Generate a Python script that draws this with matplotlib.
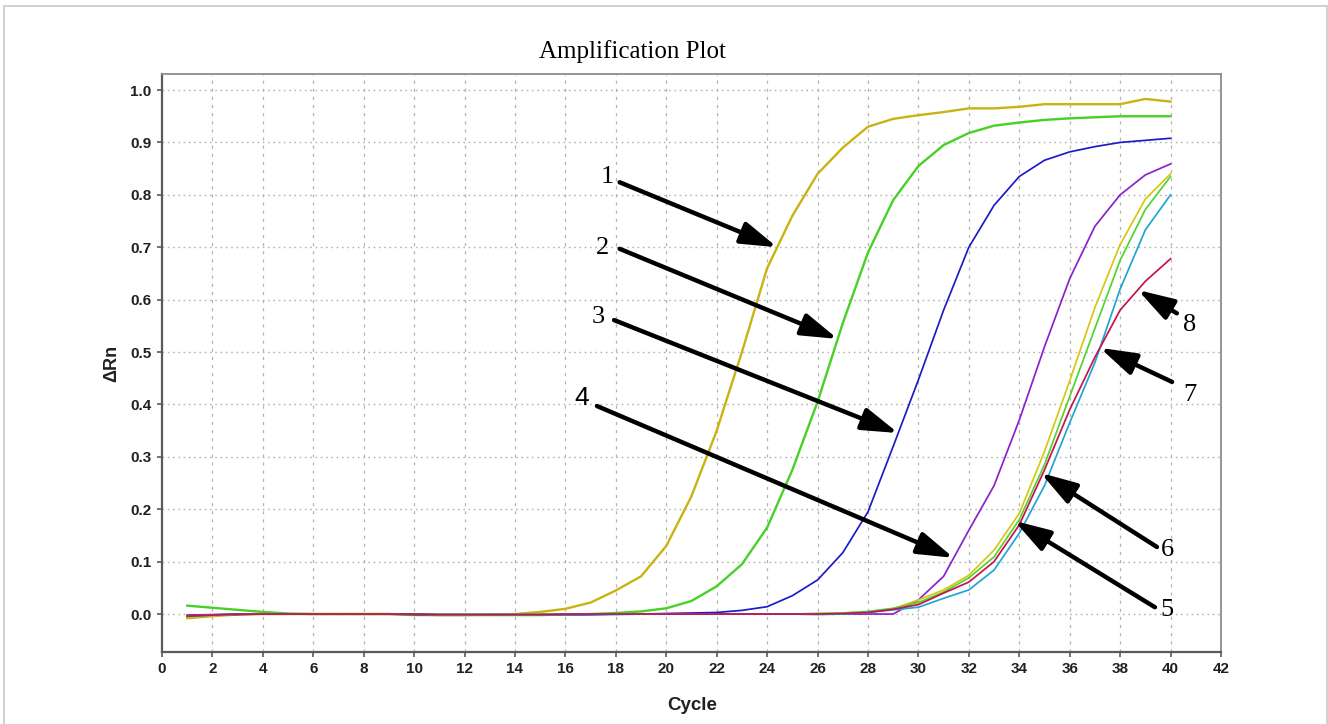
import numpy as np
import matplotlib
matplotlib.use("Agg")
import matplotlib.pyplot as plt
from matplotlib.patches import Rectangle

# amplification data, cycles 1..40
cycles = np.arange(1, 41)

rn_1 = [-0.008, -0.004, -0.001, 0.0, 0.0, 0.0, 0.0, 0.0, 0.0, -0.002,
        -0.002, -0.002, -0.001, 0.0, 0.004, 0.010, 0.022, 0.045, 0.072, 0.130,
        0.225, 0.350, 0.500, 0.660, 0.760, 0.840, 0.890, 0.930, 0.945, 0.952,
        0.958, 0.965, 0.965, 0.968, 0.973, 0.973, 0.973, 0.973, 0.983, 0.978]
rn_2 = [0.016, 0.012, 0.008, 0.004, 0.001, 0.0, 0.0, 0.0, 0.0, -0.001,
        -0.002, -0.002, -0.002, -0.002, -0.002, -0.001, 0.0, 0.002, 0.005, 0.011,
        0.025, 0.053, 0.095, 0.165, 0.275, 0.405, 0.555, 0.690, 0.790, 0.855,
        0.895, 0.918, 0.932, 0.938, 0.943, 0.946, 0.948, 0.950, 0.950, 0.950]
rn_3 = [-0.003, -0.002, -0.001, 0.0, 0.0, 0.0, 0.0, 0.0, 0.0, -0.001,
        -0.002, -0.002, -0.002, -0.002, -0.002, -0.002, -0.001, 0.0, 0.0, 0.001,
        0.002, 0.003, 0.007, 0.014, 0.035, 0.065, 0.117, 0.195, 0.320, 0.447,
        0.580, 0.700, 0.780, 0.835, 0.866, 0.882, 0.892, 0.900, 0.904, 0.908]
rn_4 = [-0.002, -0.001, 0.0, 0.0, 0.0, 0.0, 0.0, 0.0, 0.0, 0.0,
        -0.001, -0.001, -0.001, -0.001, -0.001, -0.001, -0.001, 0.0, 0.0, 0.0,
        0.0, 0.0, 0.0, 0.0, 0.0, 0.0, 0.0, 0.0, 0.0, 0.027,
        0.072, 0.160, 0.245, 0.370, 0.510, 0.640, 0.740, 0.800, 0.838, 0.859]
rn_5 = [-0.007, -0.003, 0.0, 0.0, 0.0, 0.0, 0.0, 0.0, 0.0, 0.0,
        -0.001, -0.001, -0.001, -0.001, -0.001, 0.0, 0.0, 0.0, 0.0, 0.0,
        0.0, 0.0, 0.0, 0.0, 0.0, 0.001, 0.002, 0.004, 0.010, 0.027,
        0.046, 0.074, 0.122, 0.192, 0.310, 0.445, 0.585, 0.705, 0.792, 0.840]
rn_6 = [-0.005, -0.002, 0.0, 0.0, 0.0, 0.0, 0.0, 0.0, 0.0, 0.0,
        -0.001, -0.001, -0.001, -0.001, -0.001, -0.001, 0.0, 0.0, 0.0, 0.0,
        0.0, 0.0, 0.0, 0.0, 0.0, 0.001, 0.002, 0.005, 0.011, 0.022,
        0.042, 0.069, 0.109, 0.180, 0.285, 0.415, 0.545, 0.675, 0.772, 0.835]
rn_7 = [-0.004, -0.002, 0.0, 0.0, 0.0, 0.0, 0.0, 0.0, 0.0, 0.0,
        -0.001, -0.001, -0.001, -0.001, -0.001, -0.001, -0.001, -0.001, 0.0, 0.0,
        0.0, 0.0, 0.0, 0.0, 0.0, -0.001, 0.0, 0.003, 0.008, 0.013,
        0.030, 0.046, 0.084, 0.154, 0.245, 0.365, 0.480, 0.620, 0.733, 0.800]
rn_8 = [-0.004, -0.002, 0.0, 0.0, 0.0, 0.0, 0.0, 0.0, 0.0, 0.0,
        -0.001, -0.001, -0.001, -0.001, -0.001, 0.0, 0.0, 0.0, 0.0, 0.0,
        0.0, 0.0, 0.0, 0.0, 0.0, 0.0, 0.001, 0.003, 0.009, 0.018,
        0.040, 0.061, 0.100, 0.170, 0.275, 0.390, 0.490, 0.580, 0.635, 0.678]

series = [rn_1, rn_2, rn_3, rn_4, rn_5, rn_6, rn_7, rn_8]
colors = ["#C9B312", "#47D126", "#1C1CC6", "#8A22CC",
          "#D5C810", "#52D333", "#1EA6D6", "#C8124F"]
widths = [1.7, 1.7, 1.25, 1.25, 1.25, 1.25, 1.25, 1.25]

# labels: (text, label x, label y, arrow start x, start y, curve index, cycle pointed at)
labels = [("1", 17.65, 0.834, 18.15, 0.824, 0, 24.4),
          ("2", 17.49, 0.698, 18.15, 0.697, 1, 26.8),
          ("3", 17.29, 0.567, 17.93, 0.561, 2, 29.2),
          ("4", 16.66, 0.412, 17.25, 0.397, 3, 31.4),
          ("5", 39.86, 0.008, 39.38, 0.013, 4, 33.8),
          ("6", 39.86, 0.122, 39.46, 0.128, 5, 34.85),
          ("7", 40.77, 0.418, 40.06, 0.443, 6, 37.2),
          ("8", 40.77, 0.552, 40.25, 0.574, 7, 38.7)]

sans = ["Liberation Sans", "DejaVu Sans"]

fig = plt.figure(figsize=(13.28, 7.24), dpi=100)
fig.patches.append(Rectangle((4/1328, -0.01), 1323/1328, 1.0 - 6/724 + 0.01,
                             transform=fig.transFigure, fill=False,
                             edgecolor="#c8c8c8", lw=1.2))
ax = fig.add_axes([0.122, 0.0994, 0.7974, 0.7983])

for y, c, w in zip(series, colors, widths):
    ax.plot(cycles, y, color=c, lw=w, zorder=3)

ax.set_xlim(0, 42)
ax.set_ylim(-0.0725, 1.0305)
ax.set_xticks(np.arange(0, 43, 2))
ax.set_yticks(np.arange(0, 1.01, 0.1))
ax.set_yticklabels(["%.1f" % v for v in np.arange(0, 1.01, 0.1)])

for xv in np.arange(2, 41, 2):
    ax.axvline(xv, color="#b4b4b4", lw=0.9, ls=(0, (2.5, 4)), zorder=1)
for yv in np.arange(0, 1.01, 0.1):
    ax.axhline(yv, color="#b4b4b4", lw=1.0, ls=(0, (1.2, 2.6)), zorder=1)

for s in ["left", "bottom"]:
    ax.spines[s].set_color("#5a5a5a")
    ax.spines[s].set_linewidth(1.6)
for s in ["top", "right"]:
    ax.spines[s].set_color("#8c8c8c")
    ax.spines[s].set_linewidth(1.3)
ax.tick_params(direction="out", length=3.5, width=1.2, color="#5a5a5a",
               labelsize=11, labelcolor="#202020", pad=4)
for t in ax.get_xticklabels() + ax.get_yticklabels():
    t.set_family(sans)
    t.set_fontweight("bold")

for txt, lx, ly, sx, sy, idx, cx in labels:
    tip = (cx, np.interp(cx, cycles, series[idx]))
    ax.annotate("", xy=tip, xytext=(sx, sy),
                arrowprops=dict(arrowstyle="-|>,head_length=1.1,head_width=0.34",
                                mutation_scale=20, lw=3.2, color="black",
                                shrinkA=0, shrinkB=0), zorder=5)
    fam = sans if txt == "4" else ["Liberation Serif", "DejaVu Serif"]
    ax.text(lx, ly, txt, fontsize=19, family=fam, ha="center", va="center", zorder=6)

fig.text(632/1328, 1 - 52/724, "Amplification Plot", fontsize=18,
         family=["Liberation Serif", "DejaVu Serif"], ha="center", va="center")
fig.text(112/1328, 1 - 363/724, "ΔRn", fontsize=13, fontweight="bold",
         family=sans, rotation=90, ha="center", va="center", color="#202020")
fig.text(692/1328, 1 - 705/724, "Cycle", fontsize=13.5, fontweight="bold",
         family=sans, ha="center", va="center", color="#202020")

fig.savefig("out.png", dpi=100)
